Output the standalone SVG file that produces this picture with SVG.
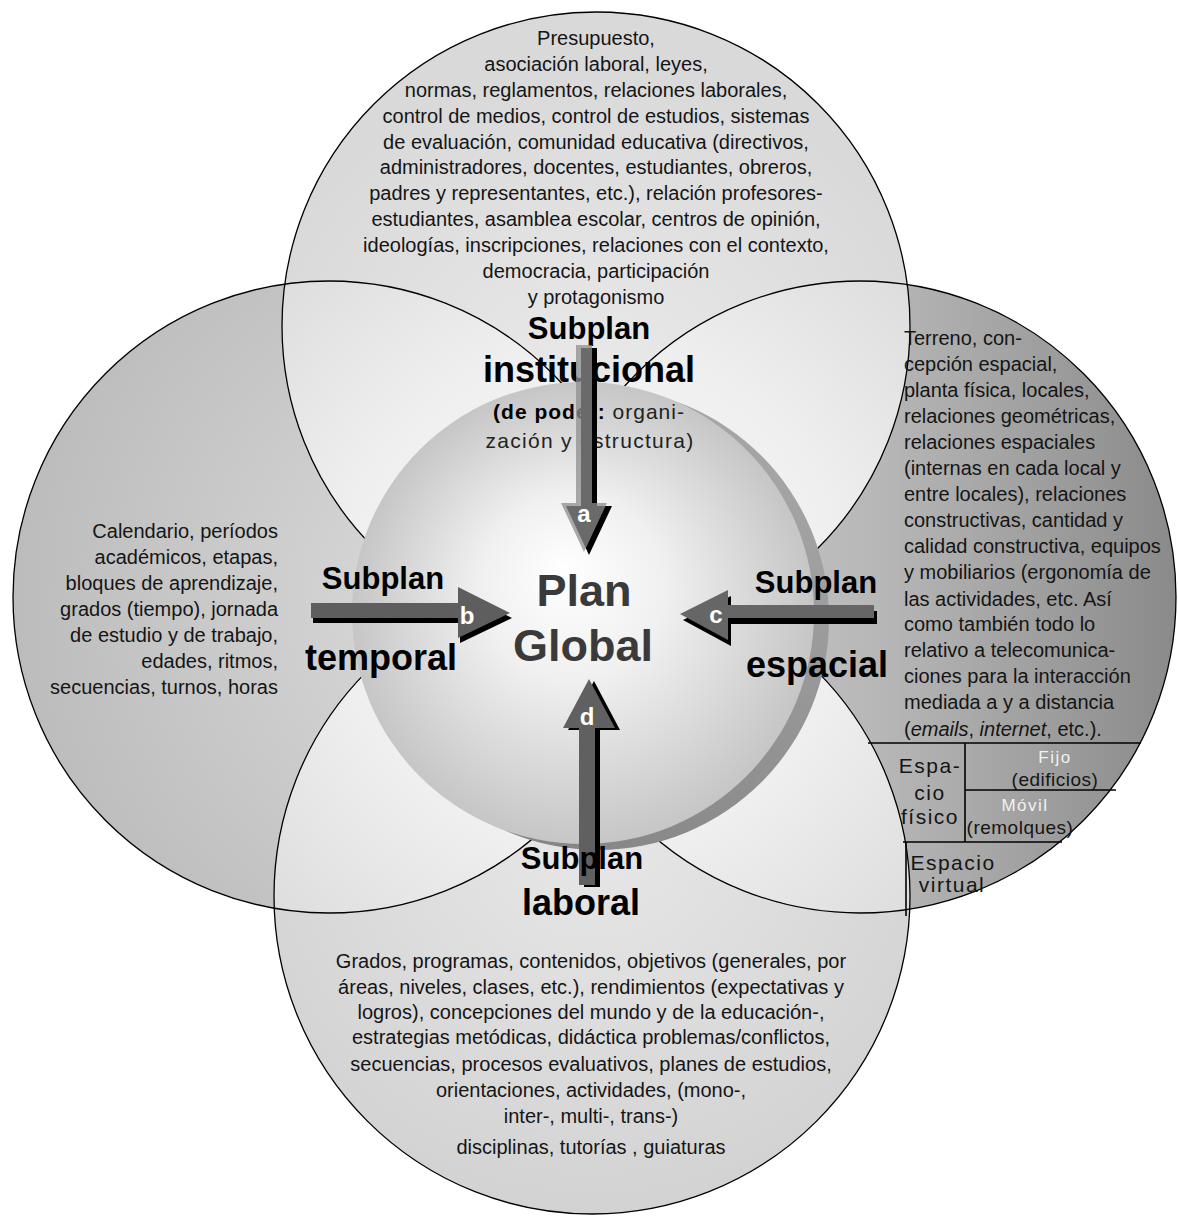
<svg xmlns="http://www.w3.org/2000/svg" width="1178" height="1216" viewBox="0 0 1178 1216">
<style>
  .body { font-family: "Liberation Sans", Arial, sans-serif; font-size: 20px; fill: #151515; }
  .c { text-anchor: middle; }
  .e { text-anchor: end; }
  .bold { font-family: "Liberation Sans", Arial, sans-serif; font-weight: bold; fill: #000; text-anchor: middle; }
  .main { font-family: "Liberation Sans", Arial, sans-serif; font-weight: bold; font-size: 45px; fill: #3a3a3a; text-anchor: middle; }
  .lbl { font-family: "Liberation Sans", Arial, sans-serif; font-weight: bold; font-size: 24px; fill: #fff; text-anchor: middle; }
  .tbl { font-family: "Liberation Sans", Arial, sans-serif; font-size: 21px; fill: #151515; text-anchor: middle; letter-spacing: 1.5px; }
  .tsm { font-family: "Liberation Sans", Arial, sans-serif; font-size: 19px; fill: #151515; text-anchor: middle; letter-spacing: 0.5px; }
  .tw { font-family: "Liberation Sans", Arial, sans-serif; font-size: 17px; fill: #f2f2f2; text-anchor: middle; letter-spacing: 1.5px; }
  .outline { fill: none; stroke: #000; stroke-width: 1.3; }
  .line { stroke: #000; stroke-width: 1.6; fill: none; }
</style>
<defs>
  <radialGradient id="gTop" gradientUnits="userSpaceOnUse" cx="596" cy="420" r="360">
    <stop offset="0" stop-color="#ebebeb"/>
    <stop offset="1" stop-color="#d9d9d9"/>
  </radialGradient>
  <radialGradient id="gLeft" gradientUnits="userSpaceOnUse" cx="480" cy="600" r="480">
    <stop offset="0" stop-color="#dcdcdc"/>
    <stop offset="0.6" stop-color="#c8c8c8"/>
    <stop offset="1" stop-color="#bbbbbb"/>
  </radialGradient>
  <linearGradient id="gRight" gradientUnits="userSpaceOnUse" x1="600" y1="0" x2="1176" y2="0">
    <stop offset="0" stop-color="#d0d0d0"/>
    <stop offset="0.5" stop-color="#b6b6b6"/>
    <stop offset="1" stop-color="#8a8a8a"/>
  </linearGradient>
  <radialGradient id="gBot" gradientUnits="userSpaceOnUse" cx="592" cy="820" r="400">
    <stop offset="0" stop-color="#e8e8e8"/>
    <stop offset="1" stop-color="#d2d2d2"/>
  </radialGradient>
  <radialGradient id="gLens" gradientUnits="userSpaceOnUse" cx="590" cy="600" r="460">
    <stop offset="0" stop-color="#fafafa"/>
    <stop offset="0.55" stop-color="#efefef"/>
    <stop offset="1" stop-color="#dcdcdc"/>
  </radialGradient>
  <radialGradient id="gSphere" gradientUnits="userSpaceOnUse" cx="583" cy="613" r="231" fx="565" fy="570">
    <stop offset="0" stop-color="#ffffff"/>
    <stop offset="0.4" stop-color="#f0f0f0"/>
    <stop offset="0.8" stop-color="#d4d4d4"/>
    <stop offset="1" stop-color="#c6c6c6"/>
  </radialGradient>
  <linearGradient id="gRing" gradientUnits="userSpaceOnUse" x1="800" y1="420" x2="560" y2="860">
    <stop offset="0" stop-color="#a8a8a8"/>
    <stop offset="1" stop-color="#858585"/>
  </linearGradient>
  <clipPath id="clipTop"><circle cx="596" cy="326" r="314"/></clipPath>
  <clipPath id="clipBot"><circle cx="592" cy="896" r="318"/></clipPath>
</defs>

<rect width="1178" height="1216" fill="#fff"/>

<!-- circle fills -->
<g id="fills">
  <circle cx="596" cy="326" r="314" fill="url(#gTop)"/>
  <circle cx="592" cy="896" r="318" fill="url(#gBot)"/>
  <circle cx="329" cy="597" r="316" fill="url(#gLeft)"/>
  <circle cx="860" cy="597" r="316" fill="url(#gRight)"/>
  <g clip-path="url(#clipTop)">
    <circle cx="329" cy="597" r="316" fill="url(#gLens)"/>
    <circle cx="860" cy="597" r="316" fill="url(#gLens)"/>
  </g>
  <g clip-path="url(#clipBot)">
    <circle cx="329" cy="597" r="316" fill="url(#gLens)"/>
    <circle cx="860" cy="597" r="316" fill="url(#gLens)"/>
  </g>
</g>

<g id="node-institucional">
  <circle class="outline" cx="596" cy="326" r="314"/>
</g>
<g id="node-temporal">
  <circle class="outline" cx="329" cy="597" r="316"/>
</g>
<g id="node-espacial">
  <circle class="outline" cx="860" cy="597" r="316"/>
</g>
<g id="node-laboral">
  <circle class="outline" cx="592" cy="896" r="318"/>
</g>

<!-- central sphere: Plan Global -->
<g id="node-plan-global">
  <circle cx="598" cy="619" r="231" fill="url(#gRing)"/>
  <circle cx="583" cy="613" r="231" fill="url(#gSphere)"/>
  <text class="main" x="584" y="606">Plan</text>
  <text class="main" x="583" y="661">Global</text>
</g>

<!-- spatial table -->
<g id="node-tabla-espacio">
  <line class="line" x1="868" y1="743" x2="1141" y2="743"/>
  <line class="line" x1="965" y1="743" x2="965" y2="842"/>
  <line class="line" x1="965" y1="790" x2="1116" y2="790"/>
  <line class="line" x1="903" y1="842" x2="1062" y2="842"/>
  <line class="line" x1="906" y1="842" x2="906" y2="916"/>
  <text class="tbl" x="930" y="773">Espa-</text>
  <text class="tbl" x="930" y="800">cio</text>
  <text class="tbl" x="930" y="824">físico</text>
  <text class="tw" x="1055" y="763">Fijo</text>
  <text class="tsm" x="1055" y="786">(edificios)</text>
  <text class="tw" x="1025" y="811">Móvil</text>
  <text class="tsm" x="1020" y="834">(remolques)</text>
  <text class="tbl" x="953" y="870">Espacio</text>
  <text class="tbl" x="952" y="892">virtual</text>
</g>

<!-- top circle text -->
<g id="text-institucional">
  <text class="body c" x="596" y="45">Presupuesto,</text>
  <text class="body c" x="596" y="71">asociación laboral, leyes,</text>
  <text class="body c" x="596" y="97">normas, reglamentos, relaciones laborales,</text>
  <text class="body c" x="596" y="123">control de medios, control de estudios, sistemas</text>
  <text class="body c" x="596" y="149">de evaluación, comunidad educativa (directivos,</text>
  <text class="body c" x="596" y="174">administradores, docentes, estudiantes, obreros,</text>
  <text class="body c" x="596" y="200">padres y representantes, etc.), relación profesores-</text>
  <text class="body c" x="596" y="226">estudiantes, asamblea escolar, centros de opinión,</text>
  <text class="body c" x="596" y="252">ideologías, inscripciones, relaciones con el contexto,</text>
  <text class="body c" x="596" y="278">democracia, participación</text>
  <text class="body c" x="596" y="304">y protagonismo</text>
  <text class="bold" x="589" y="339" font-size="31">Subplan</text>
  <text class="bold" x="589" y="382" font-size="36">institucional</text>
  <text class="body c" x="589" y="419" style="font-size:21px;letter-spacing:1px;fill:#222"><tspan font-weight="bold" fill="#000">(de poder:</tspan> organi-</text>
  <text class="body c" x="590" y="448" style="font-size:21px;letter-spacing:1.3px;fill:#222">zación y estructura)</text>
</g>

<!-- left circle text -->
<g id="text-temporal">
  <text class="body e" x="278" y="538">Calendario, períodos</text>
  <text class="body e" x="278" y="564">académicos, etapas,</text>
  <text class="body e" x="278" y="590">bloques  de aprendizaje,</text>
  <text class="body e" x="278" y="616">grados (tiempo),  jornada</text>
  <text class="body e" x="278" y="642">de estudio y de trabajo,</text>
  <text class="body e" x="278" y="668">edades, ritmos,</text>
  <text class="body e" x="278" y="694">secuencias, turnos, horas</text>
  <text class="bold" x="383" y="589" font-size="31">Subplan</text>
  <text class="bold" x="381" y="670" font-size="36">temporal</text>
</g>

<!-- right circle text -->
<g id="text-espacial">
  <text class="body" x="904" y="345">Terreno, con-</text>
  <text class="body" x="904" y="371">cepción espacial,</text>
  <text class="body" x="904" y="397">planta física, locales,</text>
  <text class="body" x="904" y="423">relaciones geométricas,</text>
  <text class="body" x="904" y="449">relaciones espaciales</text>
  <text class="body" x="904" y="475">(internas en cada local y</text>
  <text class="body" x="904" y="501">entre locales), relaciones</text>
  <text class="body" x="904" y="527">constructivas, cantidad y</text>
  <text class="body" x="904" y="553">calidad constructiva, equipos</text>
  <text class="body" x="904" y="579">y mobiliarios (ergonomía de</text>
  <text class="body" x="904" y="606">las actividades, etc.  Así</text>
  <text class="body" x="904" y="631">como también todo lo</text>
  <text class="body" x="904" y="657">relativo a telecomunica-</text>
  <text class="body" x="904" y="683">ciones para la interacción</text>
  <text class="body" x="904" y="709">mediada a y a distancia</text>
  <text class="body" x="904" y="736">(<tspan font-style="italic">emails</tspan>, <tspan font-style="italic">internet</tspan>, etc.).</text>
  <text class="bold" x="816" y="593" font-size="31">Subplan</text>
  <text class="bold" x="817" y="677" font-size="36">espacial</text>
</g>

<!-- bottom circle text -->
<g id="text-laboral">
  <text class="body c" x="591" y="968">Grados, programas, contenidos, objetivos (generales, por</text>
  <text class="body c" x="591" y="994">áreas, niveles, clases, etc.), rendimientos (expectativas y</text>
  <text class="body c" x="591" y="1019">logros), concepciones del mundo y de la educación-,</text>
  <text class="body c" x="591" y="1044">estrategias metódicas,  didáctica problemas/conflictos,</text>
  <text class="body c" x="591" y="1071">secuencias, procesos evaluativos, planes de estudios,</text>
  <text class="body c" x="591" y="1097">orientaciones, actividades, (mono-,</text>
  <text class="body c" x="591" y="1123">inter-, multi-, trans-)</text>
  <text class="body c" x="591" y="1154">disciplinas, tutorías , guiaturas</text>
</g>

<!-- connectors (arrows) -->
<g id="connectors">
  <g id="arrow-a">
    <polygon transform="translate(5,3)" fill="#000" points="576,345 592,345 592,503 607,503 584,552 561,503 576,503"/>
    <polygon fill="#8e8e8e" fill-opacity="0.75" points="576,345 592,345 592,503 607,503 584,552 561,503 576,503"/>
    <text class="lbl" x="584" y="522">a</text>
  </g>
  <g id="arrow-b">
    <polygon transform="translate(2,5)" fill="#000" points="311,603 458,603 458,587 510,613 458,638 458,618 311,618"/>
    <polygon fill="#5e5e5e" points="311,603 458,603 458,587 510,613 458,638 458,618 311,618"/>
    <text class="lbl" x="467" y="624">b</text>
  </g>
  <g id="arrow-c">
    <polygon transform="translate(3,6)" fill="#000" points="874,605 728,605 728,590 680,614 728,640 728,618 874,618"/>
    <polygon fill="#666" points="874,605 728,605 728,590 680,614 728,640 728,618 874,618"/>
    <text class="lbl" x="716" y="623">c</text>
  </g>
  <g id="arrow-d">
    <polygon transform="translate(5,2)" fill="#000" points="579,885 579,728 563,728 589,679 615,728 595,728 595,885"/>
    <polygon fill="#606060" points="579,885 579,728 563,728 589,679 615,728 595,728 595,885"/>
    <text class="lbl" x="587" y="725">d</text>
  </g>
</g>

<g id="label-laboral">
  <text class="bold" x="582" y="869" font-size="31">Subplan</text>
  <text class="bold" x="581" y="915" font-size="36">laboral</text>
</g>
</svg>
